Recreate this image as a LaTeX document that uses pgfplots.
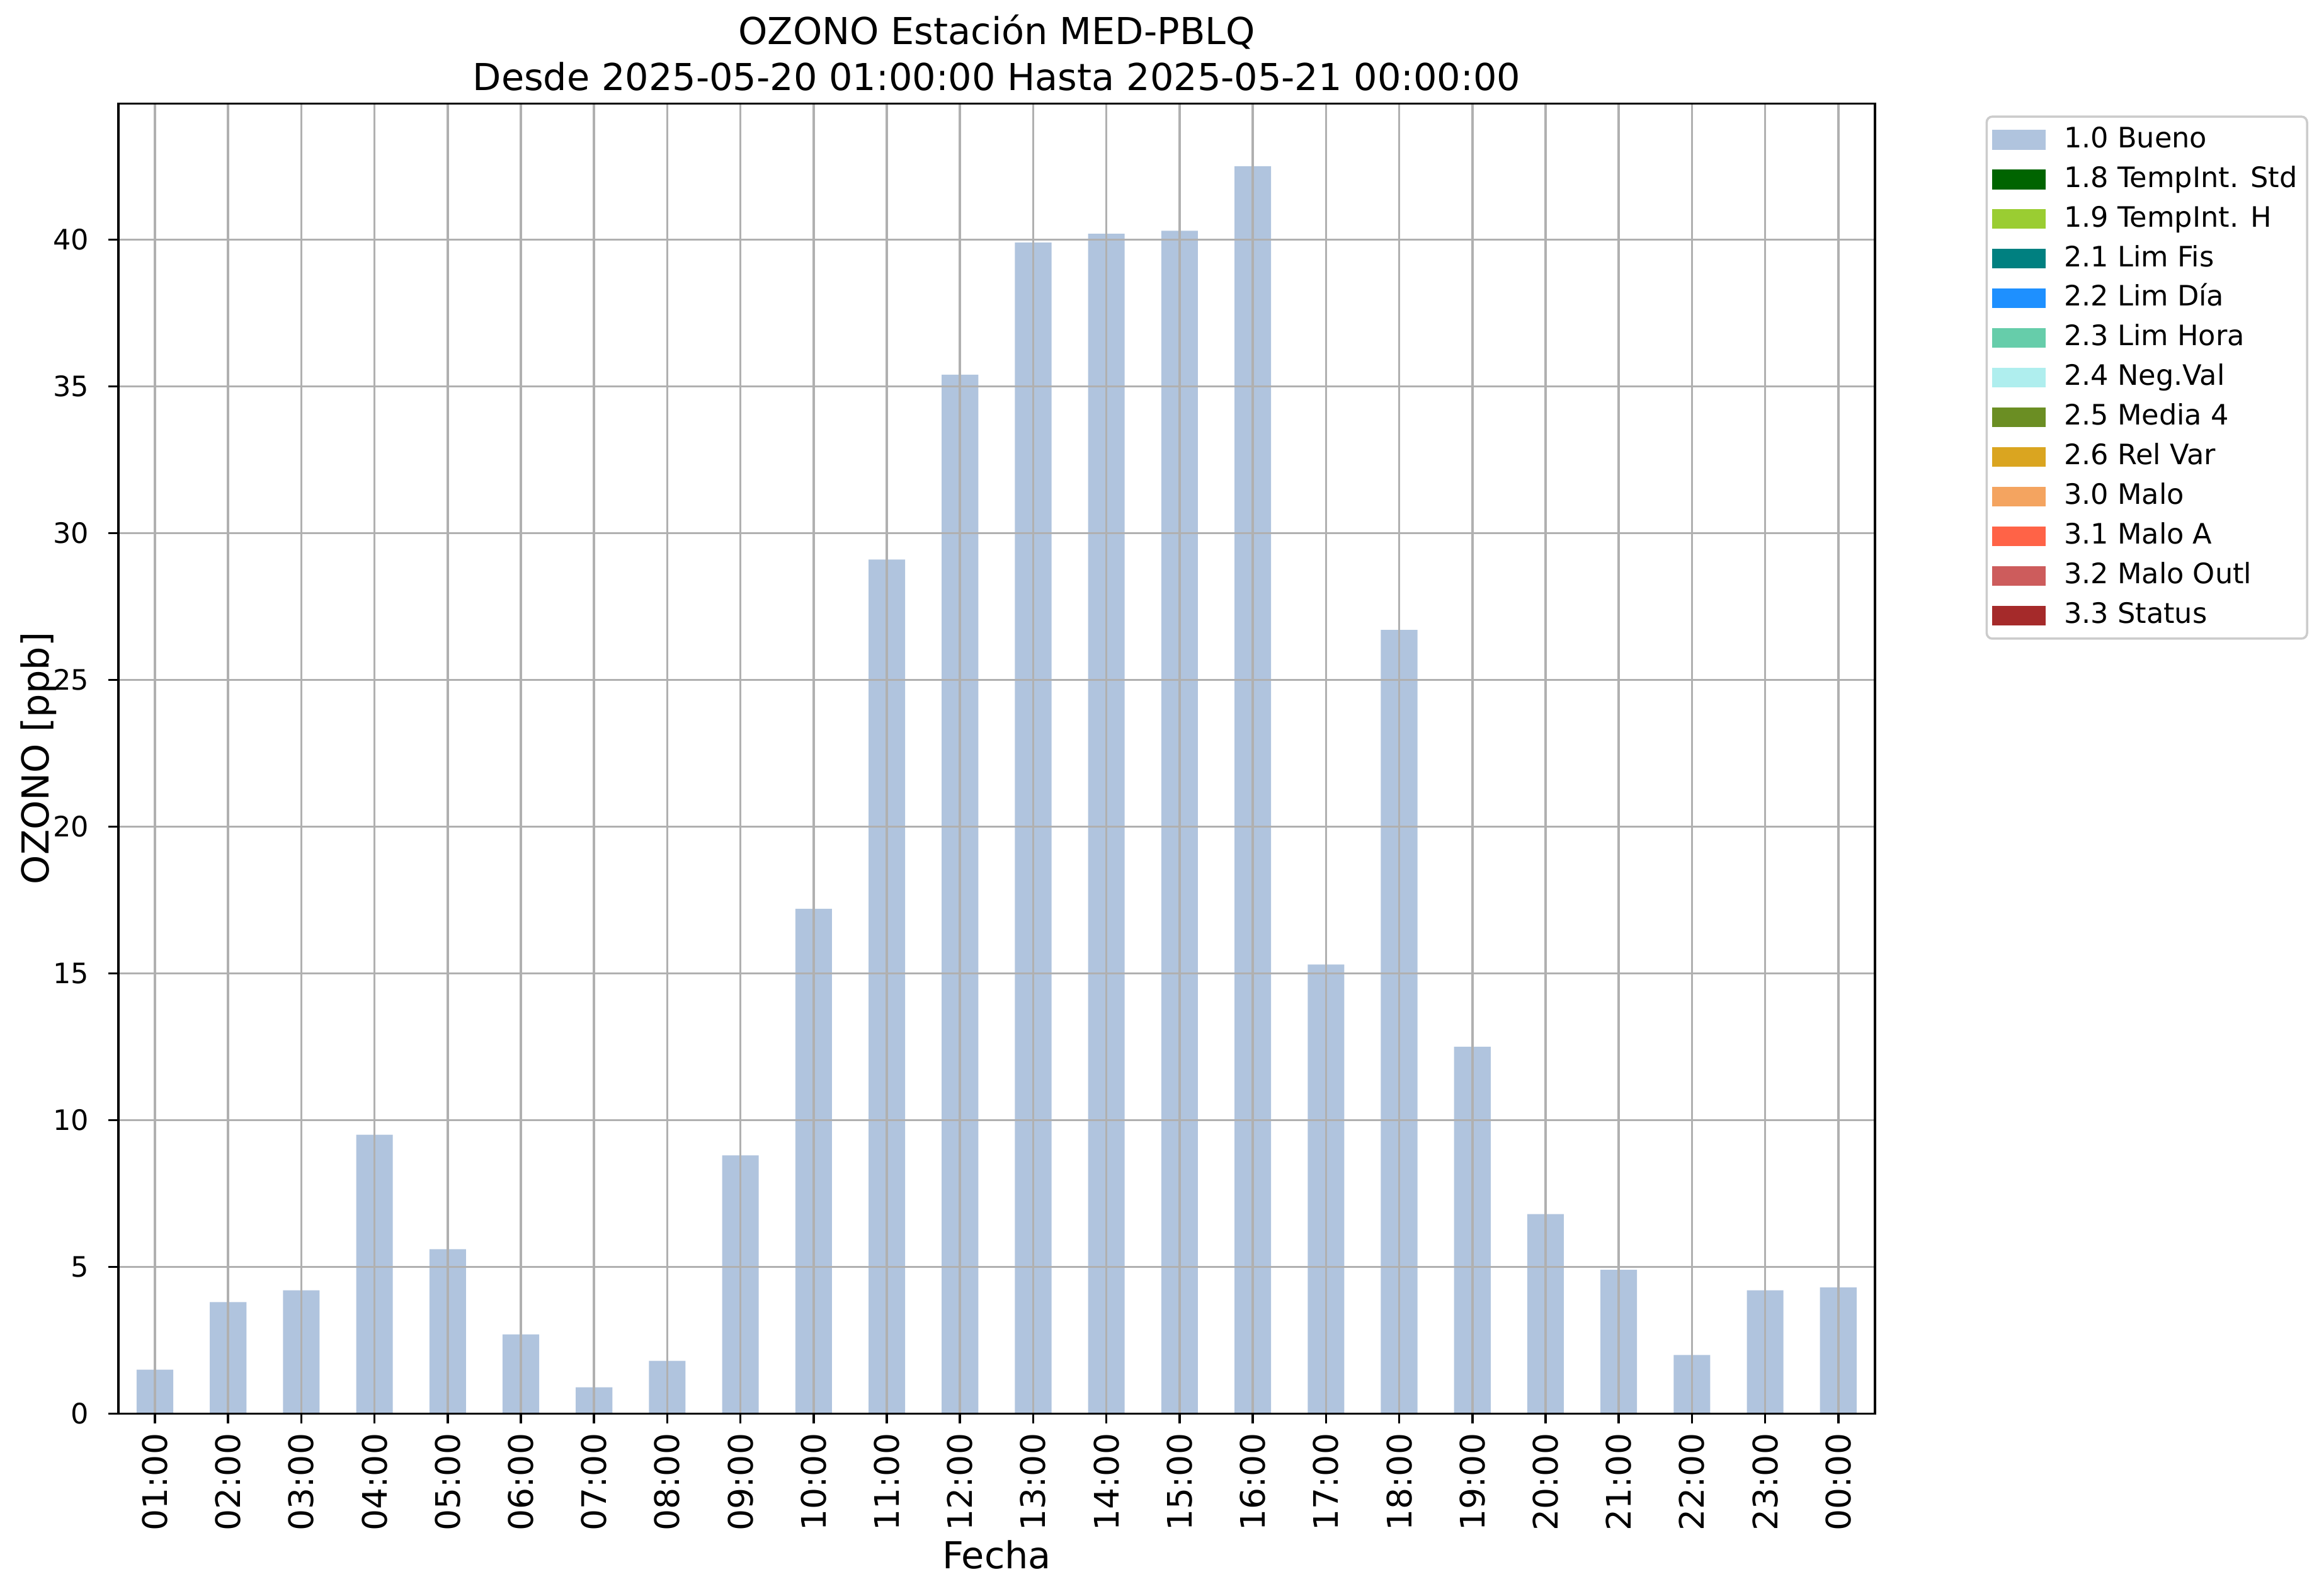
\documentclass[border=0pt]{standalone}
\usepackage{fontspec}
\setmainfont{DejaVu Sans}
\usepackage{pgfplots}
\pgfplotsset{compat=1.18}
\definecolor{bueno}{HTML}{B0C4DE}
\definecolor{c18}{HTML}{006400}
\definecolor{c19}{HTML}{9ACD32}
\definecolor{c21}{HTML}{008080}
\definecolor{c22}{HTML}{1E90FF}
\definecolor{c23}{HTML}{66CDAA}
\definecolor{c24}{HTML}{AFEEEE}
\definecolor{c25}{HTML}{6B8E23}
\definecolor{c26}{HTML}{DAA520}
\definecolor{c30}{HTML}{F4A460}
\definecolor{c31}{HTML}{FF6347}
\definecolor{c32}{HTML}{CD5C5C}
\definecolor{c33}{HTML}{A52A2A}
\definecolor{gridgray}{HTML}{B0B0B0}
\begin{document}
\begin{tikzpicture}
\useasboundingbox (0,0) rectangle (825pt,567.6pt);
\begin{axis}[
  at={(42.1pt,64.7pt)}, anchor=south west,
  scale only axis, width=624.9pt, height=466pt,
  xmin=-0.5, xmax=23.5, ymin=0, ymax=44.63,
  ybar, bar width=0.5,
  axis on top,
  xtick={0,...,23},
  xticklabels={01:00,02:00,03:00,04:00,05:00,06:00,07:00,08:00,09:00,10:00,11:00,12:00,13:00,14:00,15:00,16:00,17:00,18:00,19:00,20:00,21:00,22:00,23:00,00:00},
  ytick={0,5,...,40},
  tick pos=left, tick align=outside, major tick length=3.5pt,
  tick style={black, line width=0.8pt},
  grid=major, major grid style={gridgray, line width=0.8pt},
  axis line style={black, line width=0.8pt},
  /pgf/number format/assume math mode=true,
  xticklabel style={rotate=90, anchor=east, font=\fontsize{12}{14}\selectfont},
  yticklabel style={font=\fontsize{10}{12}\selectfont, xshift=-3.5pt},
  legend style={at={(1.063,0.991)}, anchor=north west, draw=black!20, line width=0.8pt, rounded corners=2pt,
    font=\fontsize{10}{12}\selectfont, inner xsep=2pt, inner ysep=2pt,
    nodes={inner sep=1.5pt, text height=7.5pt, text depth=2pt}, row sep=1.6pt,
    cells={anchor=west}},
  legend image code/.code={\fill[#1, draw=none, sharp corners] (0pt,-3.5pt) rectangle (19pt,3.5pt);\path[draw=none, fill=none] (24pt,0pt) circle[radius=0pt];},
]
\addplot[fill=bueno, draw=none] coordinates {
(0,1.5) (1,3.8) (2,4.2) (3,9.5) (4,5.6) (5,2.7) (6,0.9) (7,1.8) (8,8.8) (9,17.2) (10,29.1) (11,35.4)
(12,39.9) (13,40.2) (14,40.3) (15,42.5) (16,15.3) (17,26.7) (18,12.5) (19,6.8) (20,4.9) (21,2.0) (22,4.2) (23,4.3)};
\addlegendentry{1.0 Bueno}
\addlegendimage{fill=c18}\addlegendentry{1.8 TempInt. Std}
\addlegendimage{fill=c19}\addlegendentry{1.9 TempInt. H}
\addlegendimage{fill=c21}\addlegendentry{2.1 Lim Fis}
\addlegendimage{fill=c22}\addlegendentry{2.2 Lim Día}
\addlegendimage{fill=c23}\addlegendentry{2.3 Lim Hora}
\addlegendimage{fill=c24}\addlegendentry{2.4 Neg.Val}
\addlegendimage{fill=c25}\addlegendentry{2.5 Media 4}
\addlegendimage{fill=c26}\addlegendentry{2.6 Rel Var}
\addlegendimage{fill=c30}\addlegendentry{3.0 Malo}
\addlegendimage{fill=c31}\addlegendentry{3.1 Malo A}
\addlegendimage{fill=c32}\addlegendentry{3.2 Malo Outl}
\addlegendimage{fill=c33}\addlegendentry{3.3 Status}
\end{axis}
\node[anchor=base, font=\fontsize{13.2}{16}\selectfont] at (354.6pt,551.8pt) {OZONO Estación MED-PBLQ};
\node[anchor=base, font=\fontsize{13.2}{16}\selectfont] at (354.6pt,535.5pt) {Desde 2025-05-20 01:00:00 Hasta 2025-05-21 00:00:00};
\node[anchor=base, font=\fontsize{13.2}{16}\selectfont] at (354.6pt,9.5pt) {Fecha};
\node[anchor=base, rotate=90, font=\fontsize{13.2}{16}\selectfont] at (17.4pt,297.8pt) {OZONO [ppb]};
\end{tikzpicture}
\end{document}
